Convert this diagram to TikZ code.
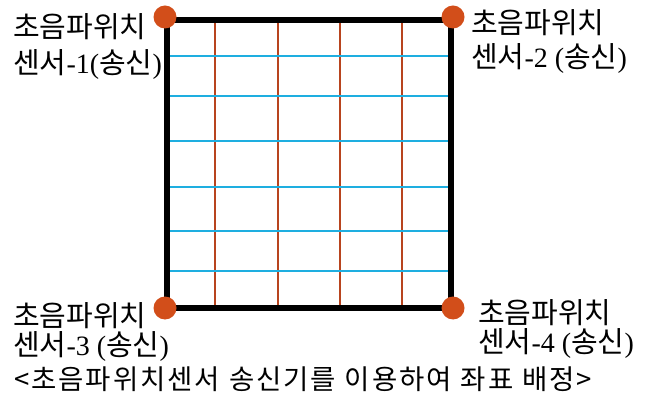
\documentclass[tikz,border=0pt]{standalone}
\usepackage{fontspec}
\setmainfont{Noto Sans CJK KR}
\newfontfamily\tms{Liberation Serif}
\newfontfamily\capfont[LetterSpace=7]{Noto Sans CJK KR}
\newcommand\tp[1]{{\tms\fontsize{28}{28}\selectfont #1}}
\definecolor{dotc}{HTML}{D24E1A}
\definecolor{redl}{HTML}{B8441E}
\definecolor{bluel}{HTML}{1EAEE0}
\begin{document}
\begin{tikzpicture}[x=1pt,y=-1pt,
  lbl/.style={anchor=base west, inner sep=0pt, font=\fontsize{29}{29}\selectfont},
  dot/.style={circle, fill=dotc, minimum size=23pt, inner sep=0pt},
  vline/.style={redl, line width=1.8pt},
  hline/.style={bluel, line width=2.6pt},
  frame/.style={black, line width=6pt, line join=miter}]
\useasboundingbox (0,0) rectangle (650,395);
% grid
\foreach \x in {215,278,340,402} \draw[vline] (\x,20) -- (\x,308);
\foreach \y in {56,96,141,187,231,271} \draw[hline] (167,\y) -- (451,\y);
% frame
\coordinate (p1) at (167,20);
\coordinate (p2) at (451,20);
\coordinate (p3) at (167,308);
\coordinate (p4) at (451,308);
\draw[frame] (p1) -- (p2) -- (p4) -- (p3) -- cycle;
% sensors
\node[dot] (c1) at (165,17) {};
\node[dot] (c2) at (453,17) {};
\node[dot] (c3) at (165,308) {};
\node[dot] (c4) at (453,308) {};
% labels
\node[lbl] (l1a) at (13,38) {초음파위치};
\node[lbl] (l1b) at (13,74) {센서\tp{-1(}송신\tp{)}};
\node[lbl] (l2a) at (471,34) {초음파위치};
\node[lbl] (l2b) at (471,68) {센서\tp{-2 (}송신\tp{)}};
\node[lbl] (l3a) at (13,326) {초음파위치};
\node[lbl] (l3b) at (13,355) {센서\tp{-3 (}송신\tp{)}};
\node[lbl] (l4a) at (478,323) {초음파위치};
\node[lbl] (l4b) at (478,352) {센서\tp{-4 (}송신\tp{)}};
% caption
\node[anchor=base west, inner sep=0pt, font=\capfont\fontsize{27.5}{27.5}\selectfont] (cap) at (14,389)
  {<초음파위치센서\hspace{9pt}송신기를\hspace{9pt}이용하여\hspace{9pt}좌표\hspace{9pt}배정>};
\end{tikzpicture}
\end{document}
